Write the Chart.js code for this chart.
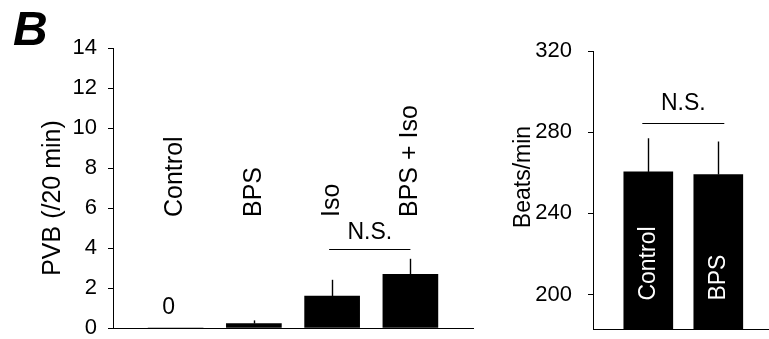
<!DOCTYPE html>
<html><head><meta charset="utf-8">
<script src="https://cdn.jsdelivr.net/npm/chart.js@4"></script>
<style>
html,body{margin:0;padding:0;background:#fff;width:769px;height:339px;overflow:hidden}
canvas{position:absolute;top:0}
#c1{left:0}
#c2{left:480px}
</style></head><body>
<canvas id="c1" width="480" height="339"></canvas>
<canvas id="c2" width="289" height="339"></canvas>
<script>
// ---- data (panel B, left: PVB) ----
const pvbCategories = ['Control', 'BPS', 'Iso', 'BPS + Iso'];
const pvbMeans = [0, 0.22, 1.6, 2.68];
const pvbErrors = [0, 0.16, 0.81, 0.78];
const pvbTicks = [0, 2, 4, 6, 8, 10, 12, 14];
const pvbTitle = 'PVB (/20 min)';
// ---- data (panel B, right: heart rate) ----
const hrCategories = ['Control', 'BPS'];
const hrMeans = [260.4, 259.1];
const hrErrors = [16.6, 16.3];
const hrTicks = [200, 240, 280, 320];
const hrTitle = 'Beats/min';
const nsText = 'N.S.';
const panelLetter = 'B';

const FONT = "'Liberation Sans', Arial, sans-serif";
Chart.defaults.font.family = FONT;
Chart.defaults.color = '#000';

function errorBars(means, errors) {
  return {
    id: 'errbars',
    afterDatasetsDraw(chart) {
      const ctx = chart.ctx, y = chart.scales.y;
      const meta = chart.getDatasetMeta(0);
      ctx.save();
      ctx.strokeStyle = '#000';
      ctx.lineWidth = 1.4;
      meta.data.forEach((bar, i) => {
        if (!errors[i]) return;
        const x = Math.round(bar.x) + 0.5;
        ctx.beginPath();
        ctx.moveTo(x, y.getPixelForValue(means[i]));
        ctx.lineTo(x, y.getPixelForValue(means[i] + errors[i]));
        ctx.stroke();
      });
      ctx.restore();
    }
  };
}

function vText(ctx, text, x, y, font, color, align) {
  ctx.save();
  ctx.translate(x, y);
  ctx.rotate(-Math.PI / 2);
  ctx.font = font;
  ctx.fillStyle = color;
  ctx.textAlign = align;
  ctx.textBaseline = 'middle';
  ctx.fillText(text, 0, 0);
  ctx.restore();
}

function nsMark(ctx, x1, x2, yLine, yText) {
  ctx.save();
  ctx.strokeStyle = '#000';
  ctx.lineWidth = 1;
  ctx.beginPath();
  ctx.moveTo(x1, Math.round(yLine) + 0.5);
  ctx.lineTo(x2, Math.round(yLine) + 0.5);
  ctx.stroke();
  ctx.font = '23px ' + FONT;
  ctx.fillStyle = '#000';
  ctx.textAlign = 'center';
  ctx.textBaseline = 'middle';
  ctx.fillText(nsText, (x1 + x2) / 2, yText);
  ctx.restore();
}

function yAxis(min, max, ticks, width, pad) {
  return {
    min: min, max: max,
    afterBuildTicks(s) { s.ticks = ticks.map(v => ({ value: v })); },
    afterFit(s) { s.width = width; s.paddingTop = 0; s.paddingBottom = 0; },
    ticks: { font: { size: 22 }, color: '#000', padding: pad },
    grid: { drawOnChartArea: false, color: '#000', tickLength: 5, lineWidth: 1 },
    border: { color: '#000', width: 1 }
  };
}

function xAxis(min, max) {
  return {
    type: 'linear', min: min, max: max, offset: false,
    afterFit(s) { s.height = 0; s.paddingLeft = 0; s.paddingRight = 0; },
    ticks: { display: false },
    grid: { display: false },
    border: { color: '#000', width: 1 }
  };
}

// ---- left chart ----
new Chart(document.getElementById('c1'), {
  type: 'bar',
  data: {
    datasets: [{
      data: pvbMeans.map((v, i) => ({ x: i, y: v })),
      backgroundColor: '#000', borderWidth: 0, barThickness: 55
    }]
  },
  options: {
    responsive: false, animation: false,
    layout: { padding: { left: 0, top: 48, right: 7, bottom: 11 } },
    plugins: { legend: { display: false }, tooltip: { enabled: false } },
    scales: { x: xAxis(-0.8, 3.8), y: yAxis(0, 14, pvbTicks, 113, 11) }
  },
  plugins: [errorBars(pvbMeans, pvbErrors), {
    id: 'annot1',
    afterDraw(chart) {
      const ctx = chart.ctx, xs = chart.scales.x, ys = chart.scales.y;
      // category labels above bars
      pvbCategories.forEach((c, i) => {
        vText(ctx, c, xs.getPixelForValue(i), ys.getPixelForValue(5.55), '25px ' + FONT, '#000', 'left');
      });
      // zero label for control
      ctx.save();
      ctx.font = '23px ' + FONT; ctx.fillStyle = '#000';
      ctx.textAlign = 'center'; ctx.textBaseline = 'middle';
      ctx.fillText(String(pvbMeans[0]), xs.getPixelForValue(0) - 7, ys.getPixelForValue(1.0));
      ctx.restore();
      // N.S. between Iso and BPS + Iso
      nsMark(ctx, xs.getPixelForValue(2) - 3, xs.getPixelForValue(3), ys.getPixelForValue(3.93), ys.getPixelForValue(4.75));
      // axis title
      vText(ctx, pvbTitle, 53, 198, '25px ' + FONT, '#000', 'center');
      // panel letter
      ctx.save();
      ctx.font = 'italic bold 48px ' + FONT; ctx.fillStyle = '#000';
      ctx.textAlign = 'left'; ctx.textBaseline = 'alphabetic';
      ctx.fillText(panelLetter, 13, 45);
      ctx.restore();
    }
  }]
});

// ---- right chart ----
new Chart(document.getElementById('c2'), {
  type: 'bar',
  data: {
    datasets: [{
      data: hrMeans.map((v, i) => ({ x: i, y: v })),
      backgroundColor: '#000', borderWidth: 0, barThickness: 49
    }]
  },
  options: {
    responsive: false, animation: false,
    layout: { padding: { left: 0, top: 51, right: 1, bottom: 10 } },
    plugins: { legend: { display: false }, tooltip: { enabled: false } },
    scales: { x: xAxis(-0.79, 1.71), y: yAxis(183, 320, hrTicks, 113, 16) }
  },
  plugins: [errorBars(hrMeans, hrErrors), {
    id: 'annot2',
    afterDraw(chart) {
      const ctx = chart.ctx, xs = chart.scales.x, ys = chart.scales.y;
      hrCategories.forEach((c, i) => {
        vText(ctx, c, xs.getPixelForValue(i), ys.getPixelForValue(197), '23px ' + FONT, '#fff', 'left');
      });
      nsMark(ctx, xs.getPixelForValue(0) - 6, xs.getPixelForValue(1) + 6, ys.getPixelForValue(284.6), ys.getPixelForValue(294));
      vText(ctx, hrTitle, 44, 177, '23px ' + FONT, '#000', 'center');
    }
  }]
});
</script>
</body></html>
